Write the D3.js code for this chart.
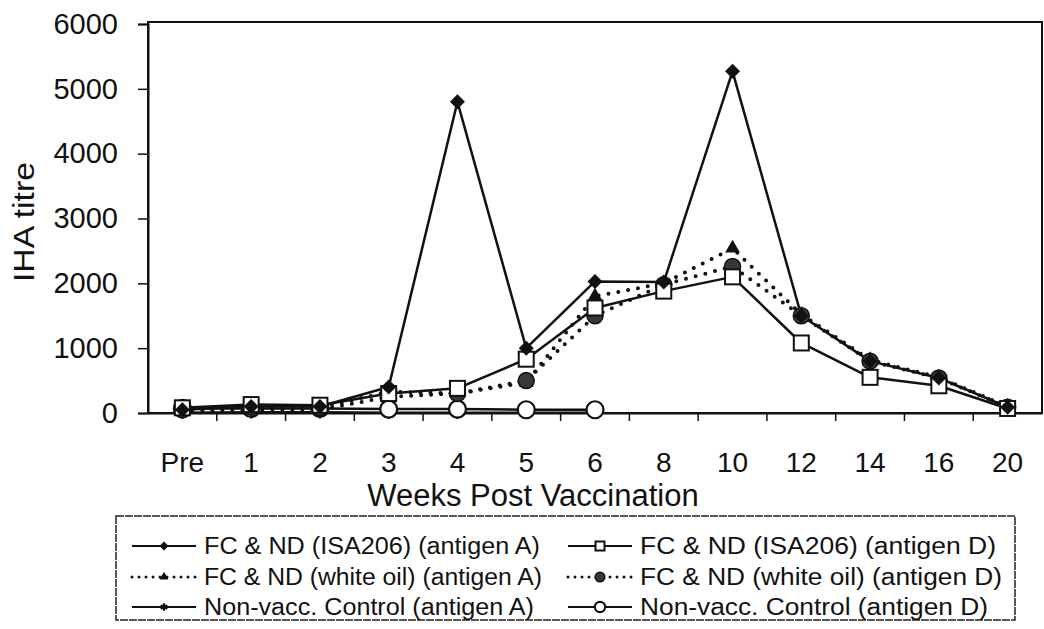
<!DOCTYPE html>
<html><head><meta charset="utf-8">
<script src="https://cdn.jsdelivr.net/npm/d3@7"></script>
<style>body{margin:0;background:#fff;} text{font-family:"Liberation Sans",Arial,sans-serif;fill:#111;}</style>
</head><body>
<svg id="c" width="1044" height="629"></svg>
<script>
const categories = ["Pre","1","2","3","4","5","6","8","10","12","14","16","20"];
const yTicks = [0,1000,2000,3000,4000,5000,6000];
const isaA   = [50,100,100,400,4800,1000,2030,2020,5270,1500,800,540,90];
const isaD   = [80,130,120,300,380,830,1620,1880,2100,1080,550,420,70];
const whiteA = [30,50,50,250,300,470,1800,2000,2540,1520,820,550,100];
const whiteD = [50,90,80,330,300,500,1500,1980,2260,1500,800,540,90];
const ctrlA  = [5,10,10,5,5,5,5];
const ctrlD  = [70,70,70,60,60,50,50];
const seriesNames = ["FC & ND (ISA206) (antigen A)","FC & ND (ISA206) (antigen D)",
  "FC & ND (white oil) (antigen A)","FC & ND (white oil) (antigen D)",
  "Non-vacc. Control (antigen A)","Non-vacc. Control (antigen D)"];

const svg = d3.select("#c");
const L=148, R=1042, T=22, B=413;
const x = d3.scaleBand().domain(categories).range([L,R]).padding(0);
const y = d3.scaleLinear().domain([0,6000]).range([B,T+2]);
const cx = c => x(c)+x.bandwidth()/2;

// frame
svg.append("rect").attr("x",L).attr("y",T).attr("width",R-L).attr("height",B-T)
  .attr("fill","none").attr("stroke","#111").attr("stroke-width",2);

// y axis
const ya = svg.append("g").attr("transform",`translate(${L},0)`)
  .call(d3.axisLeft(y).tickValues(yTicks).tickSize(10).tickPadding(20).tickFormat(d3.format("d")));
ya.select(".domain").attr("stroke","#111").attr("stroke-width",2);
ya.selectAll(".tick line").attr("stroke","#111").attr("stroke-width",1.5);
ya.selectAll(".tick text").style("font-size","29px").attr("fill","#111");

// x axis
const xa = svg.append("g").attr("transform",`translate(0,${B})`)
  .call(d3.axisBottom(x).tickSize(0).tickPadding(39));
xa.select(".domain").attr("stroke","#111").attr("stroke-width",2);
xa.selectAll(".tick text").style("font-size","28px").attr("fill","#111");
// tick marks between categories
svg.append("g").selectAll("line").data(categories.slice(1)).join("line")
  .attr("x1",d=>x(d)).attr("x2",d=>x(d)).attr("y1",B).attr("y2",B+8)
  .attr("stroke","#111").attr("stroke-width",1.5);

svg.append("text").attr("x",533).attr("y",506).attr("text-anchor","middle")
  .style("font-size","31px").text("Weeks Post Vaccination");
svg.append("text").attr("transform","translate(34,222) rotate(-90)").attr("text-anchor","middle")
  .style("font-size","29px").attr("textLength",120).attr("lengthAdjust","spacingAndGlyphs").text("IHA titre");

const line = d3.line().x((d,i)=>cx(categories[i])).y(d=>y(d));
const specs = [
  {data:isaA, dotted:false, sym:"diamond"},
  {data:isaD, dotted:false, sym:"square"},
  {data:whiteA, dotted:true, sym:"triangle"},
  {data:whiteD, dotted:true, sym:"circle"},
  {data:ctrlA, dotted:false, sym:"asterisk"},
  {data:ctrlD, dotted:false, sym:"ocircle"},
];
function drawMarker(g, sym, px, py, scale){
  scale = scale||1;
  if(sym==="diamond"){
    const h=7.5*scale;
    g.append("path").attr("d",`M${px},${py-h}L${px+h},${py}L${px},${py+h}L${px-h},${py}Z`).attr("fill","#111");
  } else if(sym==="square"){
    const s=15*scale; g.append("rect").attr("x",px-s/2).attr("y",py-s/2).attr("width",s).attr("height",s)
      .attr("fill","#fff").attr("stroke","#111").attr("stroke-width",2);
  } else if(sym==="triangle"){
    g.append("path").attr("d",d3.symbol(d3.symbolTriangle,95*scale*scale)()).attr("transform",`translate(${px},${py})`).attr("fill","#111");
  } else if(sym==="circle"){
    g.append("circle").attr("cx",px).attr("cy",py).attr("r",8*scale).attr("fill","#383838").attr("stroke","#111").attr("stroke-width",1.5);
  } else if(sym==="asterisk"){
    g.append("path").attr("d",d3.symbol(d3.symbolAsterisk,110*scale*scale)()).attr("transform",`translate(${px},${py})`)
      .attr("fill","none").attr("stroke","#111").attr("stroke-width",2.2);
  } else if(sym==="ocircle"){
    g.append("circle").attr("cx",px).attr("cy",py).attr("r",8.5*scale).attr("fill","#fff").attr("stroke","#111").attr("stroke-width",2.2);
  }
}
const drawOrder=[4,5,2,3,1,0];
drawOrder.forEach(k=>{
  const s=specs[k];
  svg.append("path").datum(s.data).attr("d",line).attr("fill","none").attr("stroke","#111")
    .attr("stroke-width",s.dotted?4:2.5).attr("stroke-linecap",s.dotted?"round":"butt")
    .attr("stroke-dasharray",s.dotted?"0 10":null).attr("stroke-linejoin","round");
});
const mg = svg.append("g");
drawOrder.forEach(k=>{
  const s=specs[k];
  s.data.forEach((v,i)=>drawMarker(mg,s.sym,cx(categories[i]),y(v)));
});

// legend
const lg = svg.append("g");
lg.append("rect").attr("x",116).attr("y",516).attr("width",899).attr("height",104)
  .attr("fill","none").attr("stroke","#222").attr("stroke-width",1.5).attr("stroke-dasharray","8 1");
const legPos=[[132,546],[568,546],[132,577],[568,577],[132,607],[568,607]];
const legLen=[336,356,338,362,330,348];
specs.forEach((s,k)=>{
  const [lx,ly]=legPos[k];
  lg.append("line").attr("x1",lx).attr("x2",lx+64).attr("y1",ly).attr("y2",ly).attr("stroke","#111")
    .attr("stroke-width",s.dotted?3:2).attr("stroke-linecap",s.dotted?"round":"butt").attr("stroke-dasharray",s.dotted?"0 7":null);
  drawMarker(lg,s.sym,lx+32,ly,0.6);
  lg.append("text").attr("x",lx+72).attr("y",ly+8).style("font-size","23px")
    .attr("textLength",legLen[k]).attr("lengthAdjust","spacingAndGlyphs").text(seriesNames[k]);
});
</script>
</body></html>
